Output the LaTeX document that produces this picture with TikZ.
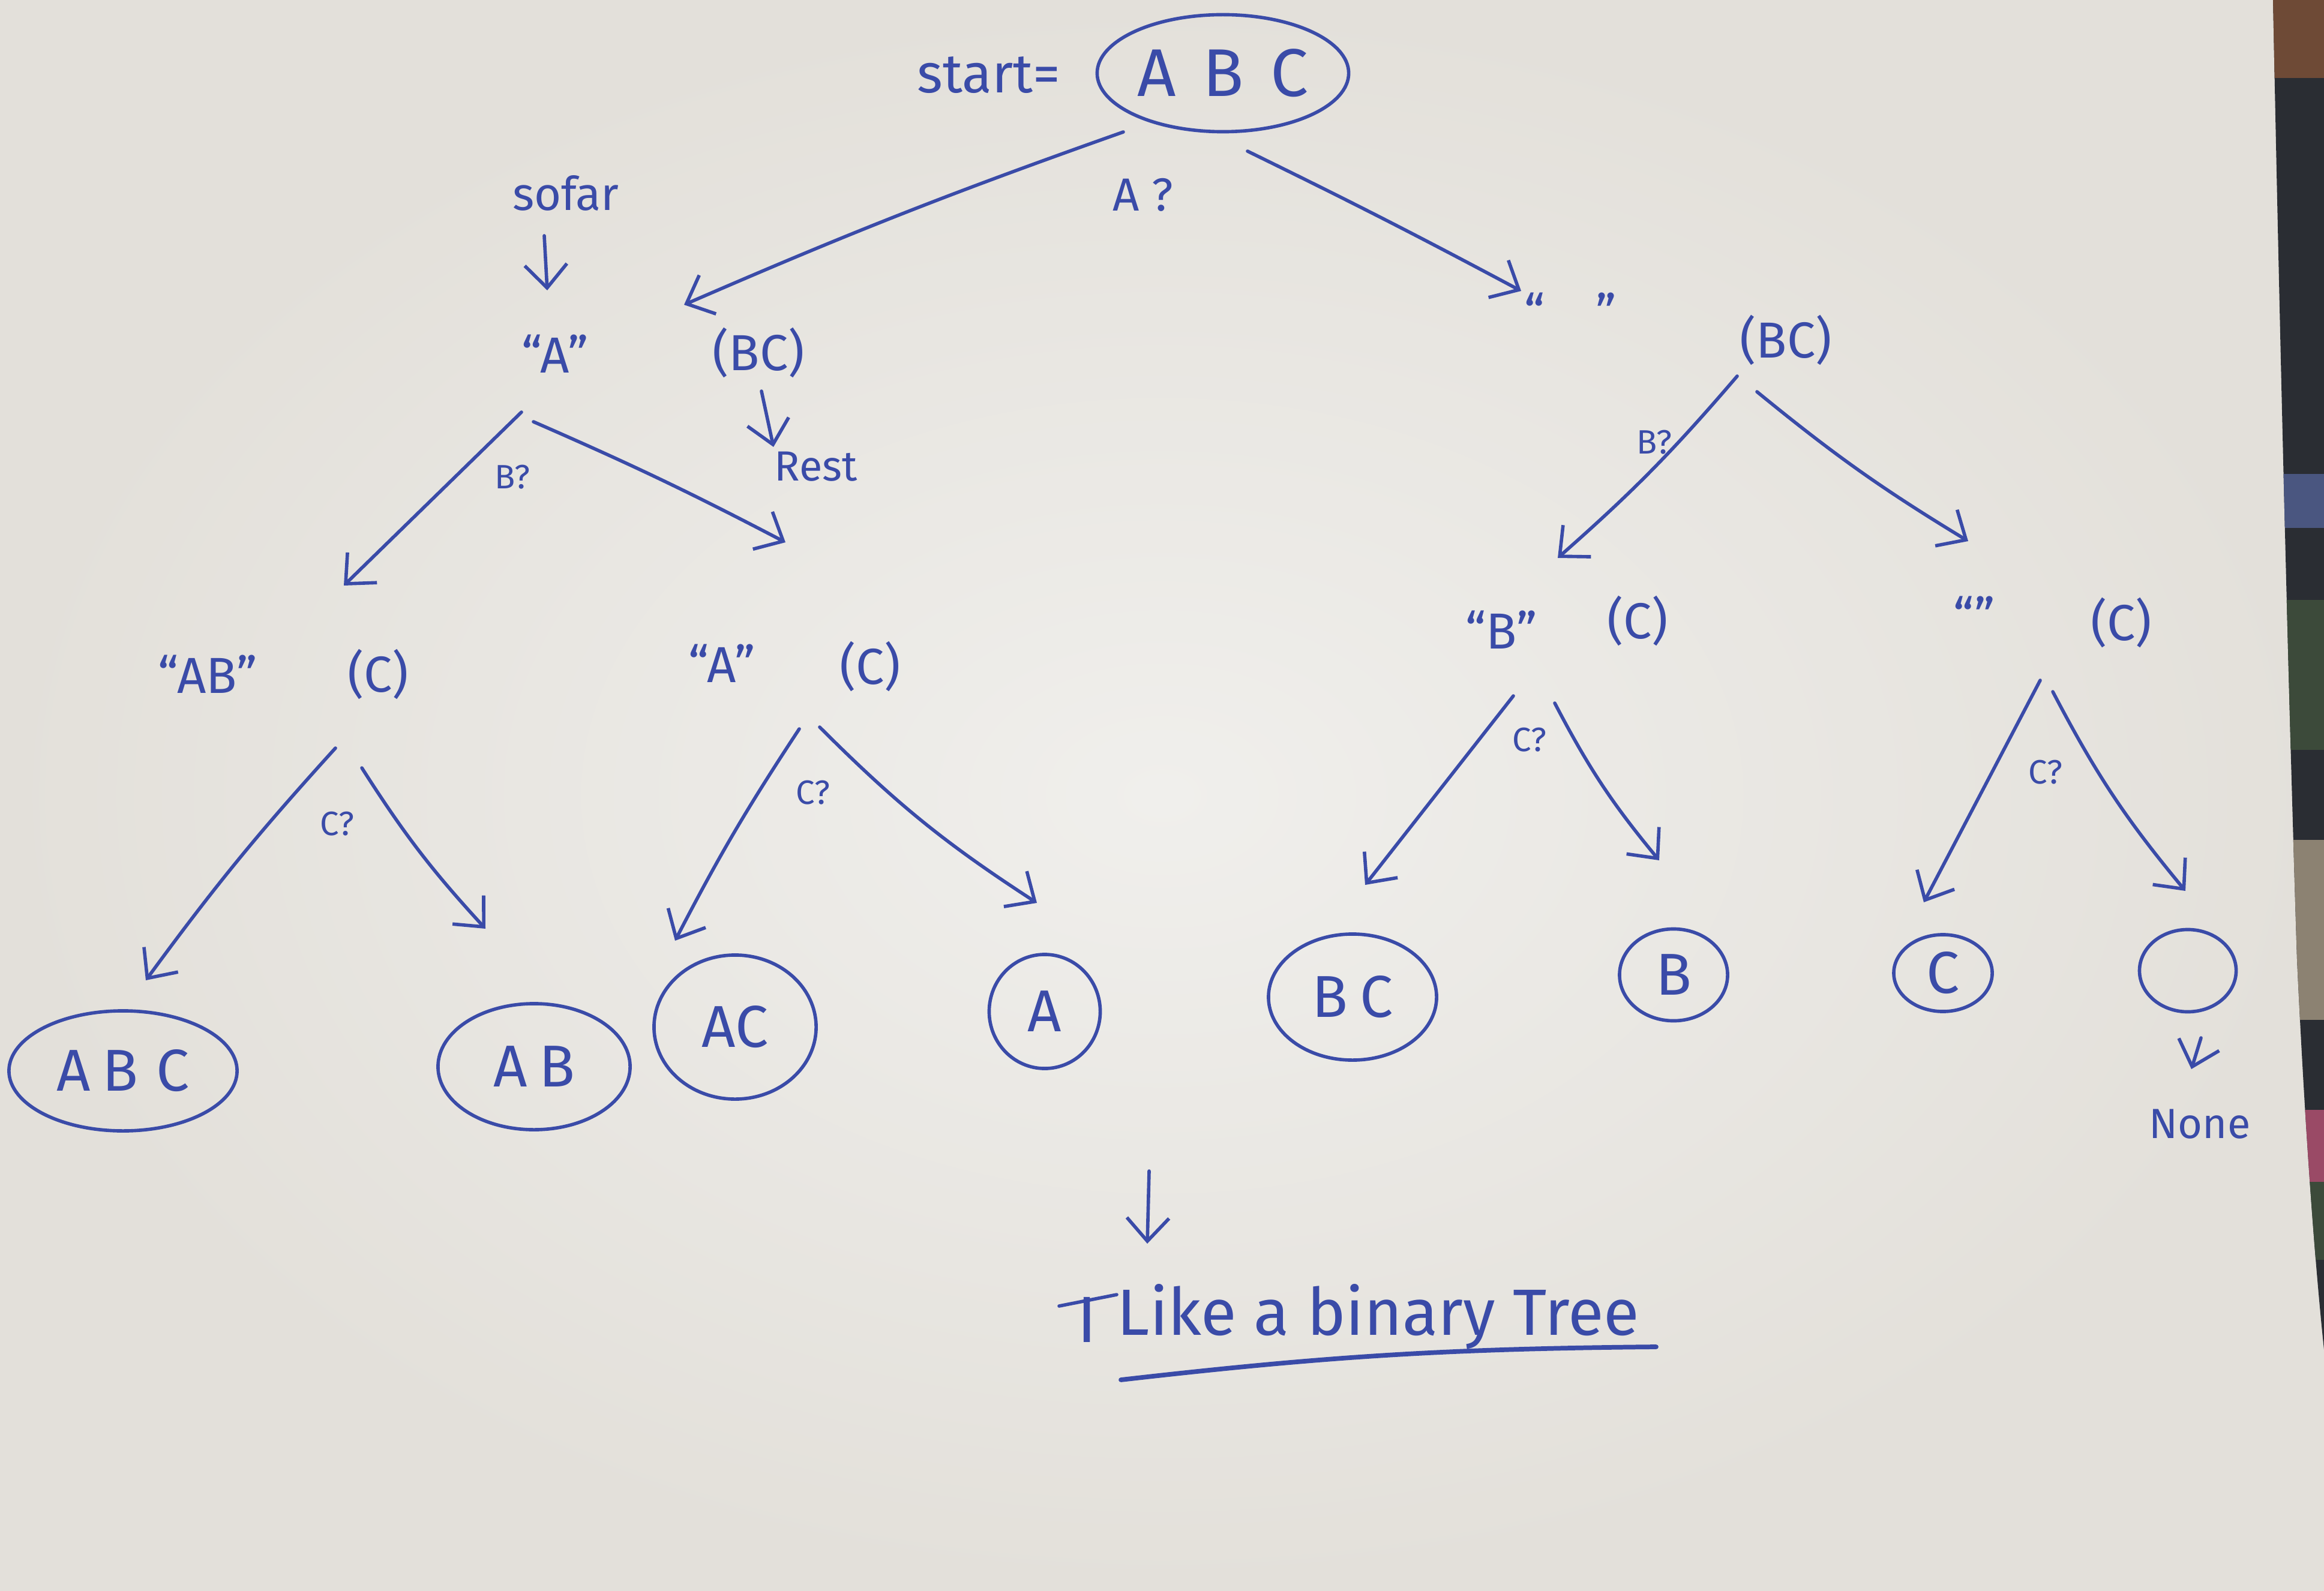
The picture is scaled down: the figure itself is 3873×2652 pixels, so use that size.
\documentclass[tikz,border=0pt]{standalone}
\usepackage{fontspec}
\setmainfont{Fira Sans}
\usetikzlibrary{arrows.meta,shapes.geometric}
\definecolor{ink}{HTML}{3A4BA8}
\definecolor{paperin}{HTML}{F0EFEC}
\definecolor{paperout}{HTML}{E3E0DA}
\definecolor{cloth}{HTML}{2A2D33}
\definecolor{clothA}{HTML}{6E4A36}
\definecolor{clothB}{HTML}{4A5680}
\definecolor{clothC}{HTML}{3C4A3A}
\definecolor{clothD}{HTML}{8C8272}
\definecolor{clothE}{HTML}{9A4A66}
\begin{document}
\begin{tikzpicture}[x=0.01cm,y=-0.01cm,
  inkline/.style={draw=ink,line width=1.6pt,line cap=round,line join=round},
  conn/.style={inkline,-{Straight Barb[length=11pt,width=20pt,line width=1.6pt]}},
  txt/.style={text=ink,inner sep=0pt,font=\fontsize{#1}{#1}\selectfont},
  leaf/.style={ellipse,inkline,text=ink,inner sep=0pt,font=\fontsize{28}{28}\selectfont},
]
\useasboundingbox (0,0) rectangle (3873,2652);
\shade[inner color=paperin,outer color=paperout] (0,0) rectangle (3873,2652);
% fabric visible beside the sheet
\begin{scope}
  \clip (3788,0) -- (3873,0) -- (3873,2250) .. controls (3850,2030) and (3835,1750) .. (3828,1600)
        .. controls (3815,1200) and (3800,600) .. (3788,0) -- cycle;
  \fill[cloth] (3780,0) rectangle (3873,2652);
  \fill[clothA] (3780,0) rectangle (3873,130);
  \fill[clothB] (3780,790) rectangle (3873,880);
  \fill[clothC] (3780,1000) rectangle (3873,1250);
  \fill[clothD] (3780,1400) rectangle (3873,1700);
  \fill[clothE] (3780,1850) rectangle (3873,1970);
  \fill[clothC] (3780,1970) rectangle (3873,2100);
\end{scope}

% root
\node[txt=26] (start) at (1648,125) {start=};
\node[leaf,minimum width=4.19cm,minimum height=1.95cm,font=\fontsize{32}{32}\selectfont] (root) at (2038,122) {A\hspace{0.4em}B\hspace{0.4em}C};
\node[txt=22] (aq) at (1905,325) {A ?};

% level 1
\node[txt=22] (sofar) at (943,322) {sofar};
\node[txt=24] (sA) at (925,590) {``A''};
\node[txt=24] (sBC) at (1264,588) {(BC)};
\node[txt=20] (rest) at (1360,778) {Rest};
\node[txt=24] (sE) at (2617,520) {``\quad''};
\node[txt=24] (sBCr) at (2976,567) {(BC)};
\node[txt=16] (bq1) at (854,795) {B?};
\node[txt=16] (bq2) at (2757,737) {B?};

% level 2
\node[txt=24] (sAB) at (346,1124) {``AB''};
\node[txt=24] (sC1) at (630,1124) {(C)};
\node[txt=24] (sA2) at (1203,1106) {``A''};
\node[txt=24] (sC2) at (1450,1111) {(C)};
\node[txt=24] (sB) at (2502,1050) {``B''};
\node[txt=24] (sC3) at (2729,1035) {(C)};
\node[txt=24] (sE2) at (3290,1026) {``''};
\node[txt=24] (sC4) at (3535,1038) {(C)};
\node[txt=16] (cq1) at (562,1373) {C?};
\node[txt=16] (cq2) at (1355,1321) {C?};
\node[txt=16] (cq3) at (2549,1233) {C?};
\node[txt=16] (cq4) at (3409,1287) {C?};

% leaves
\node[leaf,minimum width=3.8cm,minimum height=2.0cm] (lABC) at (205,1785) {A\hspace{0.2em}B\hspace{0.3em}C};
\node[leaf,minimum width=3.2cm,minimum height=2.1cm] (lAB) at (890,1778) {A\hspace{0.2em}B};
\node[leaf,minimum width=2.7cm,minimum height=2.4cm] (lAC) at (1225,1712) {AC};
\node[leaf,minimum width=1.85cm,minimum height=1.9cm] (lA) at (1741,1686) {A};
\node[leaf,minimum width=2.8cm,minimum height=2.1cm] (lBC) at (2254,1662) {B\hspace{0.2em}C};
\node[leaf,minimum width=1.8cm,minimum height=1.53cm] (lB) at (2789,1625) {B};
\node[leaf,minimum width=1.64cm,minimum height=1.28cm] (lC) at (3238,1622) {C};
\node[leaf,minimum width=1.61cm,minimum height=1.37cm] (lE) at (3646,1618) {};
\node[txt=20] (none) at (3666,1874) {None};

% bottom note
\node[txt=31] (crossI) at (1812,2200) {I};
\node[txt=31,anchor=west] (like) at (1861,2195) {Like a binary Tree};

% connector end points
\coordinate (r1a) at (1872,220);  \coordinate (r1b) at (1140,508);
\coordinate (r2a) at (2079,252);  \coordinate (r2b) at (2535,485);
\coordinate (so1) at (907,393);   \coordinate (so2) at (912,484);
\coordinate (re1) at (1269,652);  \coordinate (re2) at (1289,745);
\coordinate (a1) at (869,687);    \coordinate (a2) at (573,976);
\coordinate (a3) at (889,703);    \coordinate (a4) at (1309,904);
\coordinate (b1) at (2895,627);   \coordinate (b2) at (2596,930);
\coordinate (b3) at (2928,653);   \coordinate (b4) at (3280,902);
\coordinate (c1) at (559,1247);   \coordinate (c2) at (243,1634);
\coordinate (c3) at (603,1280);   \coordinate (c4) at (809,1548);
\coordinate (d1) at (1332,1215);  \coordinate (d2) at (1125,1568);
\coordinate (d3) at (1366,1212);  \coordinate (d4) at (1728,1505);
\coordinate (e1) at (2522,1160);  \coordinate (e2) at (2275,1475);
\coordinate (e3) at (2591,1172);  \coordinate (e4) at (2765,1434);
\coordinate (f1) at (3400,1134);  \coordinate (f2) at (3206,1504);
\coordinate (f3) at (3421,1153);  \coordinate (f4) at (3642,1485);
\coordinate (n1) at (3668,1730);  \coordinate (n2) at (3652,1782);
\coordinate (l1) at (1915,1952);  \coordinate (l2) at (1912,2073);
\coordinate (u1) at (1868,2300);  \coordinate (u2) at (2760,2245);
\coordinate (x1) at (1765,2177);  \coordinate (x2) at (1861,2158);

\draw[conn] (r1a) to[bend right=2] (r1b);
\draw[conn] (r2a) to[bend left=1] (r2b);
\draw[conn] (so1) -- (so2);
\draw[conn] (re1) -- (re2);
\draw[conn] (a1) -- (a2);
\draw[conn] (a3) to[bend left=2] (a4);
\draw[conn] (b1) to[bend left=4] (b2);
\draw[conn] (b3) to[bend right=4] (b4);
\draw[conn] (c1) to[bend right=3] (c2);
\draw[conn] (c3) to[bend right=5] (c4);
\draw[conn] (d1) to[bend right=3] (d2);
\draw[conn] (d3) to[bend right=6] (d4);
\draw[conn] (e1) -- (e2);
\draw[conn] (e3) to[bend right=6] (e4);
\draw[conn] (f1) -- (f2);
\draw[conn] (f3) to[bend right=6] (f4);
\draw[conn] (n1) -- (n2);
\draw[conn] (l1) -- (l2);
\draw[inkline] (x1) -- (x2);
\draw[inkline,line width=2.2pt] (u1) to[bend left=3] (u2);
\end{tikzpicture}
\end{document}
